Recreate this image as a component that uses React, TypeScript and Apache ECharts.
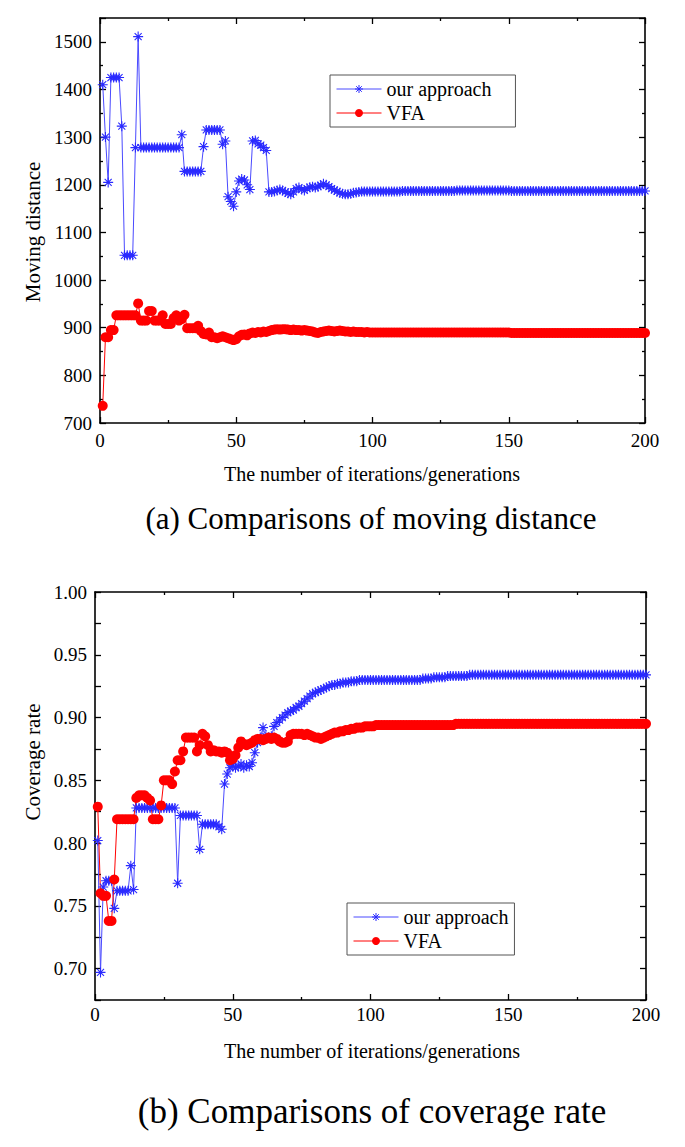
import React, { useEffect, useRef } from "react";
import * as echarts from "echarts";

// iterations / generations (x values)
const iterations: number[] = Array.from({ length: 200 }, (_, k) => k + 1);

// (a) Moving distance
const distanceOurs: number[] = [
  1410, 1300, 1205, 1425, 1425, 1425, 1425, 1323, 1052, 1052,
  1052, 1052, 1278, 1511, 1278, 1278, 1278, 1278, 1278, 1278,
  1278, 1278, 1278, 1278, 1278, 1278, 1278, 1278, 1278, 1305,
  1228, 1228, 1228, 1228, 1228, 1228, 1228, 1280, 1315, 1315,
  1315, 1315, 1315, 1315, 1285, 1292, 1175, 1165, 1155, 1185,
  1208, 1212, 1210, 1200, 1190, 1292, 1293, 1286, 1283, 1278,
  1272, 1185, 1185, 1186, 1188, 1190, 1188, 1185, 1182, 1180,
  1185, 1192, 1194, 1190, 1188, 1192, 1195, 1196, 1194, 1196,
  1199, 1202, 1200, 1196, 1192, 1189, 1186, 1183, 1181, 1180,
  1180, 1181, 1183, 1184, 1185, 1186, 1186, 1186, 1186, 1186,
  1186, 1186, 1186, 1186, 1186, 1186, 1186, 1186, 1186, 1186,
  1187, 1187, 1187, 1187, 1187, 1187, 1187, 1187, 1187, 1187,
  1187, 1187, 1187, 1187, 1187, 1187, 1187, 1187, 1187, 1187,
  1188, 1188, 1188, 1188, 1188, 1188, 1188, 1188, 1188, 1188,
  1188, 1188, 1188, 1188, 1188, 1188, 1188, 1188, 1188, 1188,
  1187, 1187, 1187, 1187, 1187, 1187, 1187, 1187, 1187, 1187,
  1187, 1187, 1187, 1187, 1187, 1187, 1187, 1187, 1187, 1187,
  1187, 1187, 1187, 1187, 1187, 1187, 1187, 1187, 1187, 1187,
  1187, 1187, 1187, 1187, 1187, 1187, 1187, 1187, 1187, 1187,
  1187, 1187, 1187, 1187, 1187, 1187, 1187, 1187, 1187, 1187,
];

const distanceVFA: number[] = [
  736, 880, 880, 895, 895, 926, 926, 926, 926, 926,
  926, 926, 926, 951, 915, 915, 915, 935, 935, 915,
  915, 915, 926, 908, 908, 908, 920, 926, 915, 918,
  927, 899, 899, 899, 899, 904, 893, 887, 886, 890,
  880, 880, 878, 880, 882, 880, 878, 876, 874, 876,
  882, 885, 886, 884, 888, 890, 889, 891, 890, 892,
  891, 893, 895, 896, 897, 896, 897, 897, 896, 895,
  896, 895, 895, 894, 895, 894, 893, 892, 890, 889,
  891, 892, 893, 894, 893, 892, 893, 894, 893, 892,
  892, 891, 892, 891, 891, 891, 890, 891, 890, 890,
  890, 890, 890, 890, 890, 890, 890, 890, 890, 890,
  890, 890, 890, 890, 890, 890, 890, 890, 890, 890,
  890, 890, 890, 890, 890, 890, 890, 890, 890, 890,
  890, 890, 890, 890, 890, 890, 890, 890, 890, 890,
  890, 890, 890, 890, 890, 890, 890, 890, 890, 890,
  889, 889, 889, 889, 889, 889, 889, 889, 889, 889,
  889, 889, 889, 889, 889, 889, 889, 889, 889, 889,
  889, 889, 889, 889, 889, 889, 889, 889, 889, 889,
  889, 889, 889, 889, 889, 889, 889, 889, 889, 889,
  889, 889, 889, 889, 889, 889, 889, 889, 889, 889,
];

// (b) Coverage rate
const coverageOurs: number[] = [
  0.802, 0.697, 0.765, 0.770, 0.770, 0.770, 0.748, 0.762, 0.762, 0.762,
  0.762, 0.762, 0.782, 0.763, 0.828, 0.828, 0.828, 0.828, 0.828, 0.828,
  0.828, 0.828, 0.828, 0.828, 0.828, 0.828, 0.828, 0.828, 0.828, 0.768,
  0.822, 0.822, 0.822, 0.822, 0.822, 0.822, 0.822, 0.795, 0.815, 0.815,
  0.815, 0.815, 0.815, 0.815, 0.813, 0.811, 0.847, 0.855, 0.860, 0.862,
  0.860, 0.861, 0.863, 0.860, 0.862, 0.861, 0.864, 0.872, 0.880, 0.884,
  0.892, 0.885, 0.884, 0.885, 0.893, 0.896, 0.898, 0.900, 0.902, 0.904,
  0.905, 0.906, 0.908, 0.909, 0.911, 0.913, 0.915, 0.917, 0.919, 0.920,
  0.921, 0.922, 0.923, 0.924, 0.925, 0.926, 0.926, 0.927, 0.927, 0.928,
  0.928, 0.928, 0.929, 0.929, 0.929, 0.930, 0.930, 0.930, 0.930, 0.930,
  0.930, 0.930, 0.930, 0.930, 0.930, 0.930, 0.930, 0.930, 0.930, 0.930,
  0.930, 0.930, 0.930, 0.930, 0.930, 0.930, 0.930, 0.930, 0.931, 0.931,
  0.931, 0.931, 0.932, 0.932, 0.932, 0.932, 0.932, 0.933, 0.933, 0.933,
  0.933, 0.933, 0.933, 0.933, 0.933, 0.934, 0.934, 0.934, 0.934, 0.934,
  0.934, 0.934, 0.934, 0.934, 0.934, 0.934, 0.934, 0.934, 0.934, 0.934,
  0.934, 0.934, 0.934, 0.934, 0.934, 0.934, 0.934, 0.934, 0.934, 0.934,
  0.934, 0.934, 0.934, 0.934, 0.934, 0.934, 0.934, 0.934, 0.934, 0.934,
  0.934, 0.934, 0.934, 0.934, 0.934, 0.934, 0.934, 0.934, 0.934, 0.934,
  0.934, 0.934, 0.934, 0.934, 0.934, 0.934, 0.934, 0.934, 0.934, 0.934,
  0.934, 0.934, 0.934, 0.934, 0.934, 0.934, 0.934, 0.934, 0.934, 0.934,
];

const coverageVFA: number[] = [
  0.829, 0.760, 0.758, 0.758, 0.738, 0.738, 0.771, 0.819, 0.819, 0.819,
  0.819, 0.819, 0.819, 0.819, 0.836, 0.838, 0.838, 0.838, 0.836, 0.834,
  0.819, 0.819, 0.819, 0.830, 0.850, 0.850, 0.850, 0.847, 0.857, 0.866,
  0.866, 0.873, 0.884, 0.884, 0.884, 0.884, 0.873, 0.878, 0.887, 0.885,
  0.878, 0.873, 0.874, 0.873, 0.873, 0.872, 0.873, 0.872, 0.866, 0.867,
  0.870, 0.876, 0.881, 0.879, 0.878, 0.879, 0.880, 0.882, 0.883, 0.883,
  0.882, 0.883, 0.884, 0.883, 0.884, 0.883, 0.881, 0.880, 0.880, 0.881,
  0.886, 0.887, 0.887, 0.887, 0.887, 0.886, 0.887, 0.886, 0.885, 0.884,
  0.884, 0.883, 0.884, 0.885, 0.886, 0.887, 0.888, 0.888, 0.889, 0.889,
  0.890, 0.890, 0.891, 0.891, 0.892, 0.892, 0.892, 0.893, 0.893, 0.893,
  0.893, 0.894, 0.894, 0.894, 0.894, 0.894, 0.894, 0.894, 0.894, 0.894,
  0.894, 0.894, 0.894, 0.894, 0.894, 0.894, 0.894, 0.894, 0.894, 0.894,
  0.894, 0.894, 0.894, 0.894, 0.894, 0.894, 0.894, 0.894, 0.894, 0.894,
  0.895, 0.895, 0.895, 0.895, 0.895, 0.895, 0.895, 0.895, 0.895, 0.895,
  0.895, 0.895, 0.895, 0.895, 0.895, 0.895, 0.895, 0.895, 0.895, 0.895,
  0.895, 0.895, 0.895, 0.895, 0.895, 0.895, 0.895, 0.895, 0.895, 0.895,
  0.895, 0.895, 0.895, 0.895, 0.895, 0.895, 0.895, 0.895, 0.895, 0.895,
  0.895, 0.895, 0.895, 0.895, 0.895, 0.895, 0.895, 0.895, 0.895, 0.895,
  0.895, 0.895, 0.895, 0.895, 0.895, 0.895, 0.895, 0.895, 0.895, 0.895,
  0.895, 0.895, 0.895, 0.895, 0.895, 0.895, 0.895, 0.895, 0.895, 0.895,
];

const seriesNames = ["our approach", "VFA"];
const xName = "The number of iterations/generations";
const captionA = "(a) Comparisons of moving distance";
const captionB = "(b) Comparisons of coverage rate";

const FONT = "Liberation Serif";
const BLUE = "#2a2aff";
const BLUE_LINE = "#4a4aff";
const RED = "#ff0000";
const STAR = "path://M5,0L5,10M0,5L10,5M1.5,1.5L8.5,8.5M1.5,8.5L8.5,1.5";

const pairs = (ys: number[]) => ys.map((v, k) => [iterations[k], v]);

function xAxisPair(gridIndex: number, margin: number) {
  const base = {
    type: "value",
    gridIndex,
    min: 0,
    max: 200,
    interval: 50,
    axisLine: { show: true, onZero: false, lineStyle: { color: "#000", width: 1.6 } },
    axisTick: { show: true, inside: true, length: 6, lineStyle: { color: "#000", width: 1.3 } },
    minorTick: { show: true, splitNumber: 2, length: 3, lineStyle: { color: "#000", width: 1.3 } },
    splitLine: { show: false },
  };
  return [
    {
      ...base,
      position: "bottom",
      axisLabel: {
        show: true,
        margin,
        color: "#000",
        fontSize: 19,
        fontFamily: FONT,
        formatter: (v: number) => String(v),
      },
    },
    { ...base, position: "top", axisLabel: { show: false } },
  ];
}

function yAxisPair(gridIndex: number, extra: any, labelExtra: any) {
  const base = {
    type: "value",
    gridIndex,
    axisLine: { show: true, onZero: false, lineStyle: { color: "#000", width: 1.6 } },
    axisTick: { show: true, inside: true, length: 6, lineStyle: { color: "#000", width: 1.3 } },
    splitLine: { show: false },
    ...extra,
  };
  return [
    {
      ...base,
      position: "left",
      axisLabel: { show: true, margin: 8, color: "#000", fontSize: 19, fontFamily: FONT, ...labelExtra },
    },
    { ...base, position: "right", axisLabel: { show: false } },
  ];
}

function seriesFor(xIdx: number, yIdx: number, ours: number[], vfa: number[]) {
  return [
    {
      name: seriesNames[0],
      type: "line",
      xAxisIndex: xIdx,
      yAxisIndex: yIdx,
      data: pairs(ours),
      symbol: STAR,
      symbolSize: 10,
      showSymbol: true,
      showAllSymbol: true,
      lineStyle: { color: BLUE_LINE, width: 1 },
      itemStyle: { color: BLUE, borderColor: BLUE, borderWidth: 1.1 },
    },
    {
      name: seriesNames[1],
      type: "line",
      xAxisIndex: xIdx,
      yAxisIndex: yIdx,
      data: pairs(vfa),
      symbol: "circle",
      symbolSize: 10,
      showSymbol: true,
      showAllSymbol: true,
      lineStyle: { color: RED, width: 1 },
      itemStyle: { color: RED, borderWidth: 0 },
    },
  ];
}

function legendAt(left: number, top: number, padding: number[]) {
  return {
    data: seriesNames,
    orient: "vertical",
    left,
    top,
    itemWidth: 45,
    itemHeight: 10,
    itemGap: 4,
    padding,
    borderColor: "#555",
    borderWidth: 1,
    selectedMode: false,
    itemStyle: { borderWidth: 1 },
    lineStyle: { width: 1 },
    textStyle: { color: "#000", fontSize: 20, fontFamily: FONT },
  };
}

function label(text: string, x: number, y: number, size: number, rotate = 0) {
  return {
    type: "text",
    x,
    y,
    rotation: rotate,
    style: {
      text,
      fill: "#000",
      fontSize: size,
      fontFamily: FONT,
      align: "center",
      verticalAlign: "middle",
    },
  };
}

export default function App() {
  const ref = useRef<HTMLDivElement>(null);

  useEffect(() => {
    if (!ref.current) return;
    const chart = echarts.init(ref.current, null, { renderer: "svg" });
    const coverageFormatter = (v: number) =>
      Math.round(v * 1000) % 50 === 0 ? v.toFixed(2) : "";
    chart.setOption({
      animation: false,
      backgroundColor: "#fff",
      grid: [
        { left: 100, right: 40, top: 18, height: 405 },
        { left: 95, right: 39, top: 592, height: 408 },
      ],
      xAxis: [...xAxisPair(0, 8), ...xAxisPair(1, 5)],
      yAxis: [
        ...yAxisPair(
          0,
          {
            min: 700,
            max: 1550,
            interval: 100,
            minorTick: { show: true, splitNumber: 2, length: 3, lineStyle: { color: "#000", width: 1.3 } },
          },
          { showMaxLabel: false, formatter: (v: number) => String(v) }
        ),
        ...yAxisPair(
          1,
          { min: 0.675, max: 1.0, interval: 0.025 },
          { formatter: coverageFormatter }
        ),
      ],
      legend: [legendAt(330, 75, [4, 24, 4, 6]), legendAt(347, 903, [4, 6, 4, 6])],
      series: [
        ...seriesFor(0, 0, distanceOurs, distanceVFA),
        ...seriesFor(2, 2, coverageOurs, coverageVFA),
      ],
      graphic: [
        label("Moving distance", 33, 232, 21, Math.PI / 2),
        label(xName, 372, 474, 20),
        label(captionA, 371, 518, 31),
        label("Coverage rate", 33, 762, 21, Math.PI / 2),
        label(xName, 372, 1051, 20),
        label(captionB, 372, 1111, 35),
      ],
    });
    return () => chart.dispose();
  }, []);

  return (
    <div
      ref={ref}
      style={{ position: "absolute", left: 0, top: 0, width: 685, height: 1147 }}
    />
  );
}
